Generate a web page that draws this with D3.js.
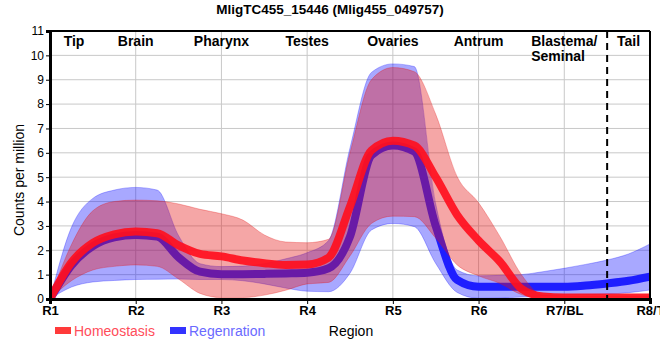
<!DOCTYPE html>
<html><head><meta charset="utf-8">
<script src="https://cdn.jsdelivr.net/npm/d3@7"></script>
<style>
body{margin:0;background:#fff;}
svg{display:block;}
.nar{font-family:"Liberation Sans Narrow","Arial Narrow","Liberation Sans",Arial,sans-serif;}
</style></head>
<body><svg id="c" width="660" height="360"></svg>
<script>
const title = "MligTC455_15446 (Mlig455_049757)";
const regions = ["R1","R2","R3","R4","R5","R6","R7/BL","R8/T"];
const tissueLabels = ["Tip","Brain","Pharynx","Testes","Ovaries","Antrum","Blastema/|Seminal","Tail"];
const tissuePos = [1.28,2,3,4,5,6,7,7.75];
const yTicks = [0,1,2,3,4,5,6,7,8,9,10,11];
const seriesNames = ["Homeostasis","Regenration"];
// sample positions along the region axis (region index), read every quarter region
const xs      = [1,1.25,1.5,1.75,2,2.25,2.5,2.75,3,3.25,3.5,3.75,4,4.25,4.5,4.75,5,5.25,5.5,5.75,6,6.25,6.5,6.75,7,7.25,7.5,7.75,8];
// Homeostasis (red)
const homMean = [0,1.5,2.3,2.65,2.77,2.7,2.2,1.85,1.75,1.58,1.47,1.4,1.42,1.7,3.8,6.1,6.5,6.3,5.0,3.45,2.4,1.53,0.42,0.1,0.06,0.06,0.06,0.06,0.06];
const homHi   = [0,2.23,3.62,4.0,4.06,4.03,3.9,3.68,3.5,3.24,2.63,2.34,2.31,2.45,6.0,9.0,9.5,9.33,7.58,5.02,3.95,2.56,1.0,0.15,0.12,0.12,0.12,0.12,0.12];
const homLo   = [0,0.75,1.19,1.34,1.4,1.34,0.82,0.23,0.06,0.06,0.16,0.36,0.62,0.68,1.77,3.1,3.4,3.38,2.5,1.4,0.95,0.64,0.18,0.02,0,0,0,0,0];
// Regeneration (blue)
const regMean = [0,1.38,2.17,2.53,2.63,2.56,1.71,1.12,1.02,1.02,1.03,1.05,1.08,1.26,2.56,5.9,6.3,6.05,3.0,0.78,0.5,0.5,0.5,0.5,0.5,0.55,0.64,0.75,0.92];
const regHi   = [0,2.94,4.13,4.47,4.58,4.47,2.6,1.45,1.33,1.35,1.45,1.65,1.9,2.4,6.2,9.3,9.65,9.54,3.9,1.19,0.95,0.97,1.0,1.12,1.26,1.42,1.6,1.85,2.26];
const regLo   = [0,0.49,0.7,0.76,0.8,0.81,0.82,0.8,0.8,0.75,0.62,0.45,0.32,0.3,1.06,2.83,3.1,2.97,1.46,0.27,0.03,0.04,0.08,0.12,0.16,0.18,0.2,0.26,0.37];

const svg = d3.select("#c");
const L=50,R=650,T=31,B=299;
const x = d3.scaleLinear().domain([1,8]).range([L,R]);
const y = d3.scaleLinear().domain([0,11]).range([B,T]);

svg.append("defs").append("clipPath").attr("id","pc")
  .append("rect").attr("x",L).attr("y",T).attr("width",R-L).attr("height",B-T);

// grid
const g = svg.append("g");
g.selectAll("line.h").data(yTicks.filter(v=>v>0&&v<11)).join("line")
  .attr("x1",L).attr("x2",R).attr("y1",d=>y(d)).attr("y2",d=>y(d))
  .attr("stroke","#c8c8c8").attr("stroke-width",1);
g.selectAll("line.v").data(d3.range(2,8)).join("line")
  .attr("y1",T).attr("y2",B).attr("x1",d=>x(d)).attr("x2",d=>x(d))
  .attr("stroke","#c8c8c8").attr("stroke-width",1);

const plot = svg.append("g").attr("clip-path","url(#pc)");
const idx = d3.range(xs.length);
const area = (lo,hi)=>d3.area().x(i=>x(xs[i])).y0(i=>y(lo[i])).y1(i=>y(hi[i])).curve(d3.curveMonotoneX);
const line = (m)=>d3.line().x(i=>x(xs[i])).y(i=>y(m[i])).curve(d3.curveMonotoneX);

plot.append("path").attr("d",area(regLo,regHi)(idx))
  .attr("fill","rgba(20,20,255,0.37)").attr("stroke","rgba(20,20,255,0.3)").attr("stroke-width",1);
plot.append("path").attr("d",line(regMean)(idx))
  .attr("fill","none").attr("stroke","#1e1eff").attr("stroke-width",8);
plot.append("path").attr("d",area(homLo,homHi)(idx))
  .attr("fill","rgba(230,20,20,0.38)").attr("stroke","rgba(230,20,20,0.3)").attr("stroke-width",1);
plot.append("path").attr("d",line(homMean)(idx))
  .attr("fill","none").attr("stroke","rgba(255,15,30,0.92)").attr("stroke-width",8);

// dashed divider
svg.append("line").attr("x1",x(7.5)).attr("x2",x(7.5)).attr("y1",T).attr("y2",B)
  .attr("stroke","#000").attr("stroke-width",2).attr("stroke-dasharray","7,5");

// frame
svg.append("line").attr("x1",L).attr("x2",R).attr("y1",T).attr("y2",T).attr("stroke","#000").attr("stroke-width",2);
svg.append("line").attr("x1",R).attr("x2",R).attr("y1",T).attr("y2",B).attr("stroke","#000").attr("stroke-width",2);

// axes
const yAxis = svg.append("g").attr("transform",`translate(${L},0)`)
  .call(d3.axisLeft(y).tickValues(yTicks).tickSize(4).tickPadding(2));
yAxis.select(".domain").attr("stroke-width",3);
yAxis.selectAll("text").attr("class","nar").style("font-size","12px").attr("fill","#000");
const xAxis = svg.append("g").attr("transform",`translate(0,${B})`)
  .call(d3.axisBottom(x).tickValues(d3.range(1,9)).tickFormat((d,i)=>regions[i]).tickSize(5).tickPadding(2));
xAxis.select(".domain").attr("stroke-width",3);
xAxis.selectAll("text").attr("class","nar").style("font-size","13px").style("font-weight","bold").attr("fill","#000");

// tissue labels
const tl = svg.append("g").attr("class","nar").style("font-weight","bold").style("font-size","14px");
tissueLabels.forEach((t,i)=>{
  const parts=t.split("|");
  const cx = x(tissuePos[i]);
  if(parts.length===1){
    tl.append("text").attr("x",cx).attr("y",46).attr("text-anchor","middle").text(parts[0]);
  } else {
    const tx = tl.append("text").attr("y",46);
    const t0 = tx.append("tspan").text(parts[0]);
    const w = t0.node().getComputedTextLength();
    const sx = cx - w/2;
    t0.attr("x",sx);
    parts.slice(1).forEach(p=>tx.append("tspan").attr("x",sx).attr("dy",15).text(p));
  }
});

// title
svg.append("text").attr("class","nar").attr("x",330).attr("y",14).attr("text-anchor","middle")
  .style("font-weight","bold").style("font-size","13.5px").text(title);

// y title
svg.append("text").attr("transform","translate(24,180) rotate(-90)").attr("text-anchor","middle")
  .style("font-family","'Liberation Sans',Arial,sans-serif").style("font-size","14px").text("Counts per million");

// x title
svg.append("text").attr("class","nar").attr("x",351).attr("y",336).attr("text-anchor","middle")
  .style("font-size","14px").text("Region");

// legend
const legCols=["#ff3a3a","#3333ff"], legText=["#ff4d5a","#6a6aff"];
const legX=[55,170];
seriesNames.forEach((s,i)=>{
  svg.append("rect").attr("x",legX[i]).attr("y",327).attr("width",16).attr("height",7).attr("fill",legCols[i]);
  svg.append("text").attr("class","nar").attr("x",legX[i]+19).attr("y",336)
    .style("font-size","14px").attr("fill",legText[i]).text(s);
});
</script></body></html>
